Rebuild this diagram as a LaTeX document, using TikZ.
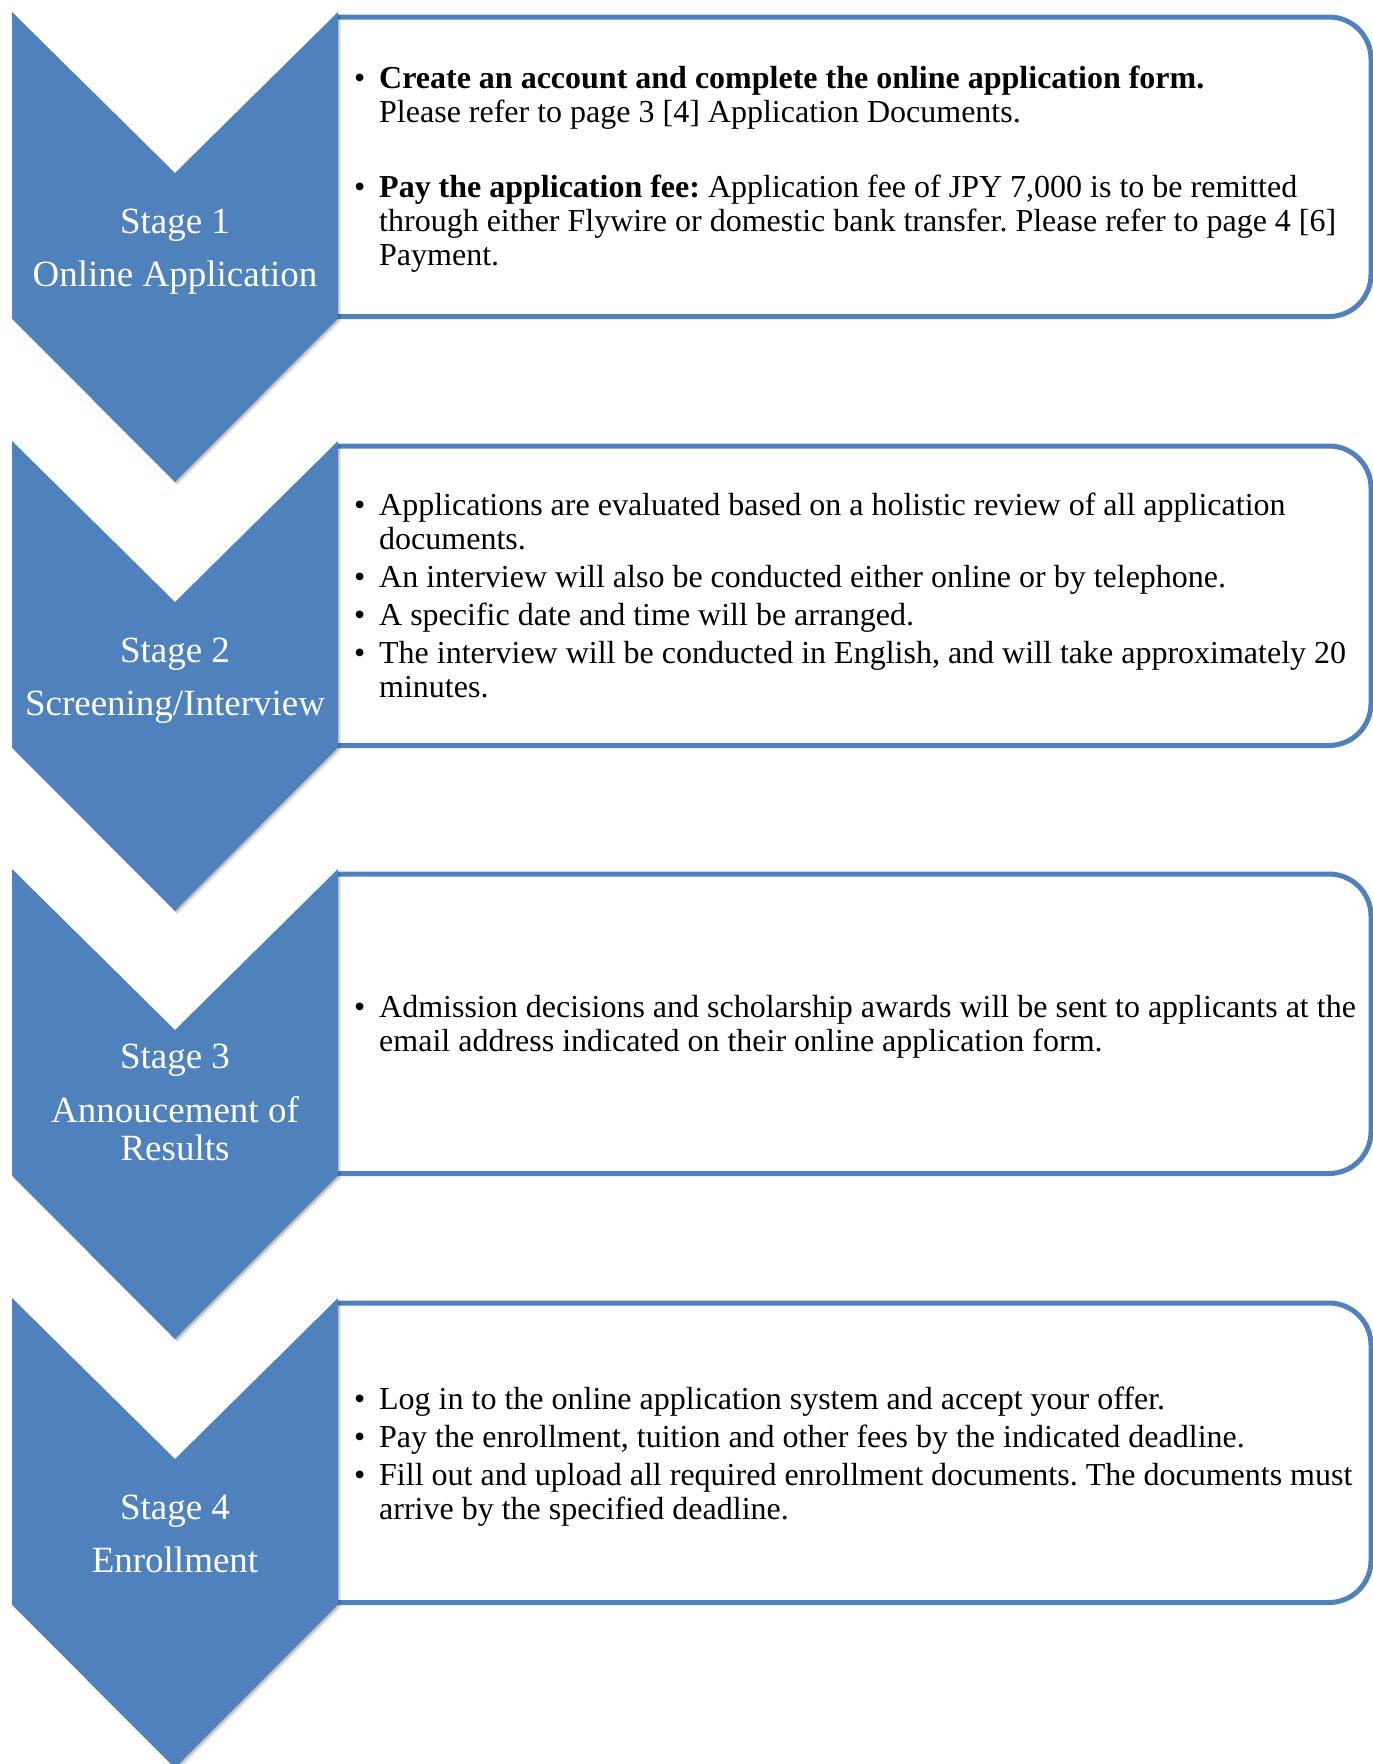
\documentclass[tikz,border=0pt]{standalone}
\usepackage{fontspec}
\setmainfont{Liberation Serif}
\frenchspacing
\definecolor{chevblue}{HTML}{4F81BD}
\newcommand\mybody{\fontsize{32}{34}\selectfont}
\newcommand\mystage{\fontsize{37}{40}\selectfont}
\newcommand\mybul{\makebox[25pt][l]{•}}
\tikzset{
  chevron/.style={fill=chevblue},
  chevshadow/.style={fill=black, fill opacity=0.16},
  chevshadowb/.style={fill=black, fill opacity=0.07},
  boxfill/.style={fill=white},
  boxline/.style={draw=chevblue, line width=5pt},
  bodytext/.style={anchor=base west, inner sep=0pt, font=\mybody, text=black},
  stagetext/.style={anchor=base, inner sep=0pt, font=\mystage, text=white},
}
\begin{document}
\frenchspacing
\begin{tikzpicture}[x=1pt,y=-1pt]
\useasboundingbox (0,0) rectangle (1373,1764);
\fill[white] (0,0) rectangle (1373,1764);
% boxes
\foreach \t in {12,441,869,1298}{
  \path[boxfill] (336,\t+5) -- (1329,\t+5) arc[start angle=-90,end angle=0,radius=42]
     -- (1371,\t+262.5) arc[start angle=0,end angle=90,radius=42] -- (336,\t+304.5) -- cycle;
  \draw[boxline] (338,\t+5) -- (1329,\t+5) arc[start angle=-90,end angle=0,radius=42]
     -- (1371,\t+262.5) arc[start angle=0,end angle=90,radius=42] -- (338,\t+304.5);
}
% chevrons
\foreach \t in {12,441,869,1298}{
  \fill[chevshadowb] (15,\t+3.5) -- (178,\t+164.5) -- (341,\t+3.5) -- (341,\t+310) -- (178,\t+473.5) -- (15,\t+310) -- cycle;
  \fill[chevshadow] (13.5,\t+2) -- (176.5,\t+163) -- (339.5,\t+2) -- (339.5,\t+308.5) -- (176.5,\t+472) -- (13.5,\t+308.5) -- cycle;
  \fill[chevron] (12,\t) -- (175,\t+161) -- (338,\t) -- (338,\t+306.5) -- (175,\t+470) -- (12,\t+306.5) -- cycle;
}
% stage labels
\node[stagetext] (s1a) at (175,233) {Stage 1};
\node[stagetext] (s1b) at (175,286) {Online Application};
\node[stagetext] (s2a) at (175,662) {Stage 2};
\node[stagetext] (s2b) at (175,715) {Screening/Interview};
\node[stagetext] (s3a) at (175,1068) {Stage 3};
\node[stagetext] (s3b) at (175,1122) {Annoucement of};
\node[stagetext] (s3c) at (175,1160) {Results};
\node[stagetext] (s4a) at (175,1519) {Stage 4};
\node[stagetext] (s4b) at (175,1572) {Enrollment};
% box 1
\node[bodytext] (b1a) at (354,88) {\mybul\textbf{Create an account and complete the online application form.}};
\node[bodytext] (b1b) at (379,122) {Please refer to page 3 [4] Application Documents.};
\node[bodytext] (b1c) at (354,197) {\mybul\textbf{Pay the application fee:} Application fee of JPY 7,000 is to be remitted};
\node[bodytext] (b1d) at (379,231) {through either Flywire or domestic bank transfer. Please refer to page 4 [6]};
\node[bodytext] (b1e) at (379,265) {Payment.};
% box 2
\node[bodytext] (b2a) at (354,515) {\mybul Applications are evaluated based on a holistic review of all application};
\node[bodytext] (b2b) at (379,549) {documents.};
\node[bodytext] (b2c) at (354,587) {\mybul An interview will also be conducted either online or by telephone.};
\node[bodytext] (b2d) at (354,625) {\mybul A specific date and time will be arranged.};
\node[bodytext] (b2e) at (354,663) {\mybul The interview will be conducted in English, and will take approximately 20};
\node[bodytext] (b2f) at (379,697) {minutes.};
% box 3
\node[bodytext] (b3a) at (354,1017) {\mybul Admission decisions and scholarship awards will be sent to applicants at the};
\node[bodytext] (b3b) at (379,1051) {email address indicated on their online application form.};
% box 4
\node[bodytext] (b4a) at (354,1409) {\mybul Log in to the online application system and accept your offer.};
\node[bodytext] (b4b) at (354,1447) {\mybul Pay the enrollment, tuition and other fees by the indicated deadline.};
\node[bodytext] (b4c) at (354,1485) {\mybul Fill out and upload all required enrollment documents. The documents must};
\node[bodytext] (b4d) at (379,1519) {arrive by the specified deadline.};
\end{tikzpicture}
\end{document}
